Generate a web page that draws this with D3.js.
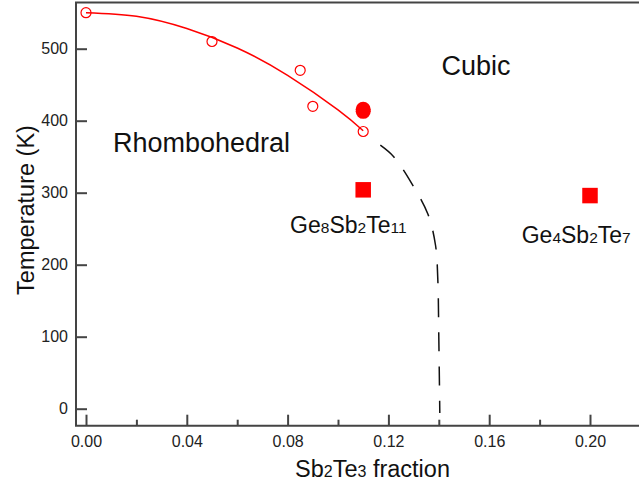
<!DOCTYPE html>
<html>
<head>
<meta charset="utf-8">
<script src="https://cdn.jsdelivr.net/npm/d3@7"></script>
<style>
  body { margin: 0; background: #fff; }
  svg { display: block; font-family: "Liberation Sans", Arial, sans-serif; }
</style>
</head>
<body>
<svg id="chart" width="639" height="482"></svg>
<script>
// measured transition temperatures (open circles)
var openX = [0, 0.05, 0.085, 0.09, 0.11];
var openT = [550, 510, 470, 420, 385];
// filled circles (two overlapping points)
var fillX = [0.11, 0.11];
var fillT = [416, 413];
// squares, room temperature samples
var sqX = [0.11, 0.20];
var sqT = [304, 296];
// fit line
var fitX = [0, 0.02, 0.04, 0.06, 0.08, 0.10, 0.11];
var fitT = [550, 545, 528, 501, 463, 415, 386];
// dashed phase boundary
var bndX = [0.1168, 0.1221, 0.1294, 0.1357, 0.1387, 0.1396, 0.1400, 0.1404];
var bndT = [366, 350, 312, 270, 227, 180, 100, -6];
// tick values
var xMajor = [0, 0.04, 0.08, 0.12, 0.16, 0.20];
var xMinor = [0.02, 0.06, 0.10, 0.14, 0.18];
var yTicks = [0, 100, 200, 300, 400, 500];

var svg = d3.select("#chart");
var x = d3.scaleLinear().domain([0, 0.20]).range([86, 590]);
var y = d3.scaleLinear().domain([0, 500]).range([408.7, 48.7]);

var frameL = 76, frameT = 2.5, frameB = 425.7;
var axisCol = "#444";

// frame (left, top, bottom)
svg.append("path")
  .attr("d", "M639," + frameT + "H" + frameL + "V" + frameB + "H639")
  .attr("fill", "none").attr("stroke", axisCol).attr("stroke-width", 2);

// y axis
var yAxis = svg.append("g").attr("transform", "translate(" + frameL + ",0)")
  .call(d3.axisLeft(y).tickValues(yTicks).tickSize(-11).tickPadding(8))
  .attr("font-family", null).attr("font-size", null);
yAxis.select(".domain").remove();
yAxis.selectAll("line").attr("stroke", axisCol).attr("stroke-width", 2);
yAxis.selectAll("text").attr("font-size", "16px").attr("fill", "#222");

// x axis
var xAxis = svg.append("g").attr("transform", "translate(0," + frameB + ")")
  .call(d3.axisBottom(x).tickValues(xMajor).tickFormat(d3.format(".2f")).tickSize(-11).tickPadding(10))
  .attr("font-family", null).attr("font-size", null);
xAxis.select(".domain").remove();
xAxis.selectAll("line").attr("stroke", axisCol).attr("stroke-width", 2);
xAxis.selectAll("text").attr("font-size", "16px").attr("fill", "#222");

var xMin = svg.append("g").attr("transform", "translate(0," + frameB + ")")
  .call(d3.axisBottom(x).tickValues(xMinor).tickSize(-6).tickFormat(""));
xMin.select(".domain").remove();
xMin.selectAll("line").attr("stroke", axisCol).attr("stroke-width", 2);

// fit curve
var fit = fitX.map(function(d, i) { return [d, fitT[i]]; });
svg.append("path").datum(fit)
  .attr("d", d3.line().x(function(d) { return x(d[0]); }).y(function(d) { return y(d[1]); }).curve(d3.curveNatural))
  .attr("fill", "none").attr("stroke", "#f00").attr("stroke-width", 1.5);

// dashed boundary
var bnd = bndX.map(function(d, i) { return [d, bndT[i]]; });
svg.append("path").datum(bnd)
  .attr("d", d3.line().x(function(d) { return x(d[0]); }).y(function(d) { return y(d[1]); }).curve(d3.curveCatmullRom))
  .attr("fill", "none").attr("stroke", "#111").attr("stroke-width", 1.5)
  .attr("stroke-dasharray", "19,15");

// open circles
svg.selectAll("circle.open").data(openX).enter().append("circle")
  .attr("class", "open")
  .attr("cx", function(d) { return x(d); })
  .attr("cy", function(d, i) { return y(openT[i]); })
  .attr("r", 5).attr("fill", "none").attr("stroke", "#f00").attr("stroke-width", 1.2);

// filled circles
svg.selectAll("circle.fill").data(fillX).enter().append("circle")
  .attr("class", "fill")
  .attr("cx", function(d) { return x(d); })
  .attr("cy", function(d, i) { return y(fillT[i]); })
  .attr("r", 7.5).attr("fill", "#f00");

// squares
svg.selectAll("rect.sq").data(sqX).enter().append("rect")
  .attr("class", "sq")
  .attr("x", function(d) { return x(d) - 7.75; })
  .attr("y", function(d, i) { return y(sqT[i]) - 7.75; })
  .attr("width", 15.5).attr("height", 15.5).attr("fill", "#f00");

// region labels
svg.append("text").attr("x", x(0.0107)).attr("y", y(356.5))
  .attr("font-size", "27px").attr("fill", "#111").text("Rhombohedral");
svg.append("text").attr("x", x(0.1411)).attr("y", y(463.5))
  .attr("font-size", "27px").attr("fill", "#111").text("Cubic");

// formula labels with small inline digits
function formula(sel, parts, big, small) {
  parts.forEach(function(p) {
    sel.append("tspan").attr("font-size", p.sub ? small : big).text(p.t);
  });
}
var g8 = svg.append("text").attr("x", x(0.081)).attr("y", y(244)).attr("fill", "#111");
formula(g8, [{t: "Ge"}, {t: "8", sub: 1}, {t: "Sb"}, {t: "2", sub: 1}, {t: "Te"}, {t: "11", sub: 1}], "23px", "15.5px");
var g4 = svg.append("text").attr("x", x(0.1729)).attr("y", y(230)).attr("fill", "#111");
formula(g4, [{t: "Ge"}, {t: "4", sub: 1}, {t: "Sb"}, {t: "2", sub: 1}, {t: "Te"}, {t: "7", sub: 1}], "23px", "15.5px");

// axis titles
var xt = svg.append("text").attr("x", 372.5).attr("y", 476.7).attr("text-anchor", "middle").attr("fill", "#111");
formula(xt, [{t: "Sb"}, {t: "2", sub: 1}, {t: "Te"}, {t: "3", sub: 1}, {t: " fraction"}], "23.5px", "16px");

svg.append("text").attr("transform", "translate(34,210) rotate(-90)")
  .attr("text-anchor", "middle").attr("font-size", "23.5px").attr("fill", "#111")
  .text("Temperature (K)");
</script>
</body>
</html>
